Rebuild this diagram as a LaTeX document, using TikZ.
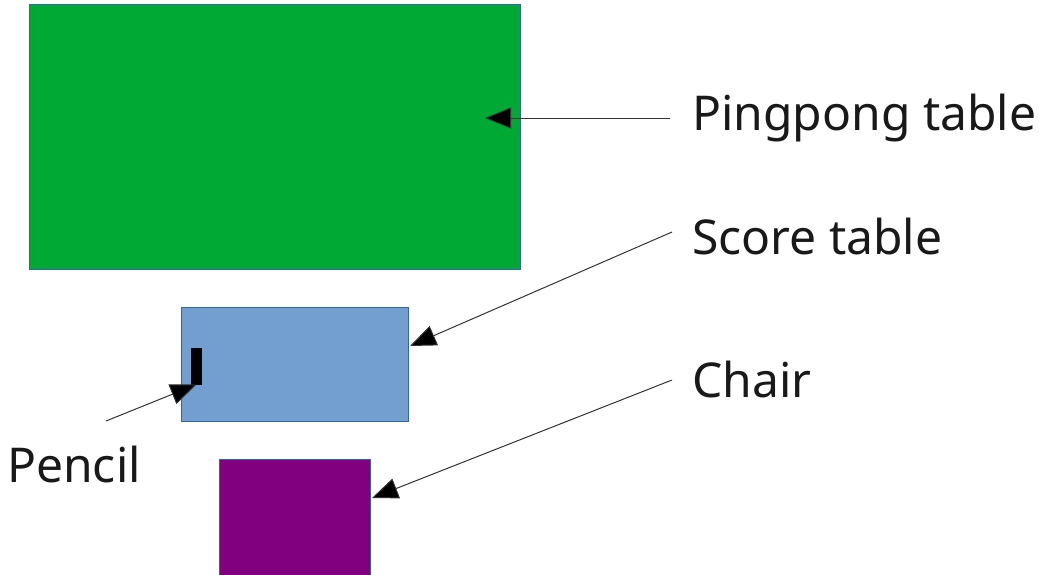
\documentclass[tikz,border=0pt]{standalone}
\usepackage{fontspec}
\setmainfont{Noto Sans}
\usetikzlibrary{arrows.meta}
\definecolor{tablegreen}{HTML}{00A933}
\definecolor{scoreblue}{HTML}{729FCF}
\definecolor{chairpurple}{HTML}{800080}
\definecolor{edgeblue}{HTML}{3465A4}
\definecolor{inkgray}{HTML}{333333}
\tikzset{
  furniture/.style={draw=edgeblue, line width=0.8pt, inner sep=0pt, outer sep=0pt},
  caption/.style={anchor=base west, inner sep=0pt, text=black!90,
    font=\fontsize{48}{54}\selectfont},
  pointer/.style={draw=inkgray, line width=1pt,
    -{Triangle[length=26pt,width=21pt,fill=black]}},
}
\begin{document}
\begin{tikzpicture}[x=1pt,y=-1pt]
  \useasboundingbox (0,0) rectangle (1039,574);

  % furniture, seen from above
  \node[furniture, fill=tablegreen, minimum width=491pt, minimum height=265pt] (ping) at (274.5,136.5) {};
  \node[furniture, fill=scoreblue, minimum width=227pt, minimum height=114pt] (score) at (294.5,364) {};
  \node[furniture, fill=chairpurple, minimum width=151pt, minimum height=118pt] (chair) at (294.5,518) {};
  \node[fill=black, inner sep=0pt, outer sep=0pt, minimum width=11pt, minimum height=37pt] (pencil) at (196.5,366) {};

  % captions
  \node[caption] (pingtxt) at (692,130) {Pingpong table};
  \node[caption] (scoretxt) at (692,254) {Score table};
  \node[caption] (chairtxt) at (692,397) {Chair};
  \node[caption] (penciltxt) at (7,482) {Pencil};

  % free ends of the pointers
  \coordinate (pingfrom) at (670,118);
  \coordinate (scorefrom) at (672,232);
  \coordinate (chairfrom) at (672,380);
  \coordinate (pencilfrom) at (106,421);

  \draw[pointer] (pingfrom) -- ([xshift=-35pt,yshift=18.5pt]ping.east);
  \draw[pointer] (scorefrom) -- ([xshift=2pt,yshift=18pt]score.east);
  \draw[pointer] (chairfrom) -- ([xshift=2pt,yshift=20pt]chair.east);
  \draw[pointer] (pencilfrom) -- (pencil.south);
\end{tikzpicture}
\end{document}
